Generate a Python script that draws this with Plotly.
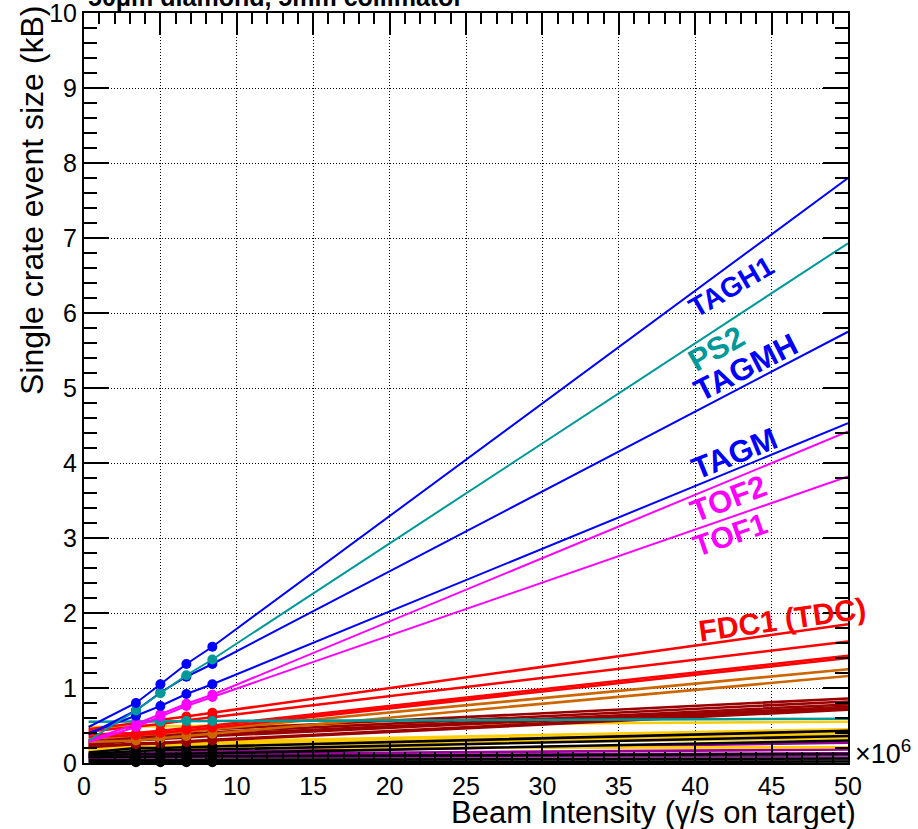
import plotly.graph_objects as go

# Beam intensities (x 10^6 gamma/s on target) where crate sizes were measured
intensity_pts = [3.4, 5.0, 6.7, 8.4]
x_start = 0.3
x_end = 50.0

# One entry per crate: name, colour, size at start of line, measured sizes, size at 50e6
series_names = [
    "GREY3", "GREY2", "GREY1",
    "PURP4", "PURP3", "PURP2", "PURP1",
    "YEL7", "YEL6", "YEL5", "YEL4", "YEL3", "YEL2", "YEL1",
    "BLK6", "BLK5", "BLK4", "BLK3", "BLK2", "BLK1",
    "DRED6", "DRED5", "DRED4", "DRED3", "DRED2", "DRED1",
    "ORG2", "ORG1",
    "RED4", "RED3", "RED2", "FDC1 (TDC)",
    "PS1",
    "TOF1", "TOF2",
    "TAGM", "TAGMH", "PS2", "TAGH1",
]
series_colors = [
    "#b0b0b0", "#8c8c8c", "#6e6e6e",
    "#990099", "#990099", "#990099", "#990099",
    "#ffcc00", "#ffcc00", "#ffcc00", "#ffcc00", "#ffcc00", "#ffcc00", "#ffcc00",
    "#000000", "#000000", "#000000", "#000000", "#000000", "#000000",
    "#990000", "#990000", "#990000", "#990000", "#990000", "#990000",
    "#cc6600", "#cc6600",
    "#ff0000", "#ff0000", "#ff0000", "#ff0000",
    "#009999",
    "#ff00ff", "#ff00ff",
    "#0000ff", "#0000ff", "#009999", "#0000ff",
]
y_start = [
    0.02, 0.04, 0.06,
    0.07, 0.08, 0.10, 0.12,
    0.17, 0.18, 0.19, 0.20, 0.21, 0.22, 0.48,
    0.01, 0.04, 0.08, 0.10, 0.12, 0.14,
    0.21, 0.22, 0.24, 0.26, 0.27, 0.30,
    0.28, 0.32,
    0.35, 0.38, 0.42, 0.45,
    0.55,
    0.28, 0.30,
    0.40, 0.38, 0.30, 0.48,
]
y_pts = [
    [0.02, 0.02, 0.02, 0.02],
    [0.04, 0.04, 0.04, 0.04],
    [0.06, 0.06, 0.06, 0.06],
    [0.08, 0.08, 0.08, 0.08],
    [0.09, 0.09, 0.10, 0.10],
    [0.11, 0.11, 0.12, 0.12],
    [0.13, 0.14, 0.14, 0.15],
    [0.19, 0.19, 0.20, 0.20],
    [0.21, 0.22, 0.22, 0.23],
    [0.22, 0.23, 0.24, 0.25],
    [0.23, 0.24, 0.25, 0.26],
    [0.24, 0.25, 0.26, 0.27],
    [0.26, 0.27, 0.28, 0.29],
    [0.49, 0.49, 0.49, 0.50],
    [0.01, 0.01, 0.01, 0.01],
    [0.04, 0.04, 0.04, 0.04],
    [0.08, 0.08, 0.08, 0.09],
    [0.12, 0.12, 0.13, 0.13],
    [0.16, 0.17, 0.17, 0.18],
    [0.20, 0.20, 0.21, 0.22],
    [0.25, 0.26, 0.28, 0.30],
    [0.26, 0.27, 0.29, 0.31],
    [0.30, 0.32, 0.34, 0.36],
    [0.32, 0.34, 0.36, 0.38],
    [0.35, 0.37, 0.39, 0.41],
    [0.38, 0.40, 0.42, 0.45],
    [0.30, 0.33, 0.36, 0.39],
    [0.36, 0.39, 0.42, 0.45],
    [0.37, 0.40, 0.44, 0.47],
    [0.40, 0.43, 0.47, 0.50],
    [0.48, 0.52, 0.57, 0.61],
    [0.53, 0.57, 0.62, 0.67],
    [0.55, 0.55, 0.56, 0.56],
    [0.48, 0.62, 0.76, 0.88],
    [0.52, 0.65, 0.79, 0.91],
    [0.63, 0.76, 0.92, 1.05],
    [0.70, 0.94, 1.15, 1.32],
    [0.70, 0.93, 1.17, 1.38],
    [0.80, 1.05, 1.32, 1.55],
]
y_end = [
    0.02, 0.04, 0.06,
    0.10, 0.13, 0.18, 0.27,
    0.21, 0.33, 0.36, 0.38, 0.40, 0.45, 0.55,
    0.02, 0.06, 0.12, 0.30, 0.36, 0.43,
    0.71, 0.73, 0.75, 0.78, 0.82, 0.86,
    1.16, 1.25,
    1.40, 1.43, 1.62, 1.85,
    0.59,
    3.82, 4.42,
    4.53, 5.75, 6.93, 7.80,
]

# Text labels drawn along the extrapolated lines: text, colour, x, y, angle, size
label_texts = ["TAGH1", "PS2", "TAGMH", "TAGM", "TOF2", "TOF1", "FDC1 (TDC)"]
label_colors = ["#0000ff", "#009999", "#0000ff", "#0000ff", "#ff00ff", "#ff00ff", "#ff0000"]
label_x = [42.4, 41.4, 43.3, 42.6, 42.2, 42.3, 45.7]
label_y = [6.35, 5.53, 5.28, 4.13, 3.53, 3.05, 1.92]
label_angle = [-30, -30, -27, -22, -21, -19, -8]
label_size = [28, 31, 31, 31, 31, 30, 30]

fig = go.Figure()

for name, col, y0, pts, y1 in zip(series_names, series_colors, y_start, y_pts, y_end):
    xs = [x_start] + intensity_pts + [x_end]
    ys = [y0] + pts + [y1]
    big = y1 > 3.0
    fig.add_trace(go.Scatter(
        x=xs, y=ys, mode="lines", name=name,
        line=dict(color=col, width=2 if big else 2.6), showlegend=False,
    ))
    fig.add_trace(go.Scatter(
        x=intensity_pts, y=pts, mode="markers", name=name, cliponaxis=False,
        marker=dict(color=col, size=10, line=dict(width=0)), showlegend=False,
    ))

font_main = "Liberation Sans, Arial, Helvetica, sans-serif"

for t, c, x, y, a, s in zip(label_texts, label_colors, label_x, label_y, label_angle, label_size):
    fig.add_annotation(
        x=x, y=y, xref="x", yref="y", text="<b>%s</b>" % t, showarrow=False,
        textangle=a, xanchor="center", yanchor="middle",
        font=dict(family=font_main, size=s, color=c),
    )

# Axis titles, exponent and pad title
fig.add_annotation(
    x=1.0065, y=0.0, xref="paper", yref="paper", xanchor="right", yanchor="top",
    text="Beam Intensity (\u03b3/s on target)", showarrow=False,
    font=dict(family=font_main, size=31, color="black"), yshift=-30, xshift=5,
)
fig.add_annotation(
    x=-0.068, y=1.0, xref="paper", yref="paper", xanchor="center", yanchor="top",
    text="Single crate event size (kB)", showarrow=False, textangle=-90,
    font=dict(family=font_main, size=32, color="black"), yshift=10,
)
fig.add_annotation(
    x=1.0065, y=0.0147, xref="paper", yref="paper", xanchor="left", yanchor="middle",
    text="\u00d710<sup>6</sup>", showarrow=False,
    font=dict(family=font_main, size=27, color="black"),
)
fig.add_annotation(
    x=0.003, y=1.0213, xref="paper", yref="paper", xanchor="left", yanchor="middle",
    text="<b>50\u03bcm diamond, 5mm collimator</b>", showarrow=False,
    font=dict(family=font_main, size=25, color="black"),
)

axis_common = dict(
    showline=True, linecolor="black", linewidth=2, mirror="allticks",
    ticks="inside", tickcolor="black", tickwidth=2,
    showgrid=True, gridcolor="black", gridwidth=1, griddash="1px,2px",
    zeroline=False, ticklabeloverflow="allow", automargin=False,
    tickfont=dict(family=font_main, size=25, color="black"),
)

fig.update_xaxes(
    range=[0, 50], dtick=5, tick0=0, ticklen=22,
    minor=dict(dtick=1, ticks="inside", ticklen=11, tickcolor="black", tickwidth=1.5, showgrid=False),
    **axis_common,
)
fig.update_yaxes(
    range=[0, 10], dtick=1, tick0=0, ticklen=25,
    minor=dict(dtick=0.2, ticks="inside", ticklen=13, tickcolor="black", tickwidth=1.5, showgrid=False),
    **axis_common,
)

fig.update_layout(
    width=918, height=829,
    margin=dict(l=84, r=70, t=13, b=66, autoexpand=False),
    paper_bgcolor="white", plot_bgcolor="white",
    showlegend=False,
)

fig.write_html("out.html")
